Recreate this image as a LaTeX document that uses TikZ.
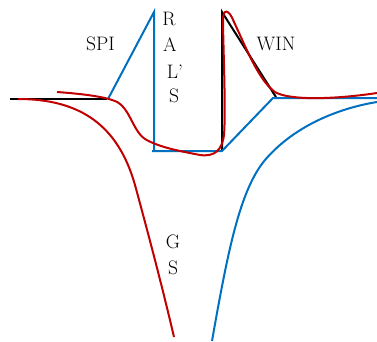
\documentclass[tikz,border=0pt]{standalone}
\definecolor{curveblue}{RGB}{0,112,192}
\definecolor{curvered}{RGB}{192,0,0}
\tikzset{
  lbl/.style={font=\fontsize{19.5}{22}\selectfont,inner sep=0pt},
  bline/.style={curveblue,line width=2pt},
  rline/.style={curvered,line width=2pt},
  kline/.style={black,line width=2pt}
}
\begin{document}
\begin{tikzpicture}[x=1pt,y=-1pt]
        \useasboundingbox (0,0) rectangle (377,341);
        \draw[kline] (10,99) -- (107,99);
        \draw[kline] (222,151) -- (222,12) -- (274,94) -- (276,97);
        \draw[bline] (108,99) -- (154,12) -- (154,151);
        \draw[bline] (152,151) -- (222,151) -- (273,98) -- (377,98);
        \draw[bline] (212,341) .. controls (228,250) and (240,190) .. (265,160) .. controls (295,125) and (340,108) .. (377,102);
        \draw[rline] (18,99) .. controls (80,99) and (118,125) .. (135,185) .. controls (150,240) and (163,290) .. (174,337);
        \draw[rline] (57,92) .. controls (85,94) and (105,97) .. (115,101)
          .. controls (130,107) and (132,130) .. (145,139)
          .. controls (160,148) and (185,152) .. (200,155)
          .. controls (215,157) and (222,150) .. (224,135)
          .. controls (226,110) and (223,40) .. (223,20)
          .. controls (223,8) and (229,9) .. (234,22)
          .. controls (245,45) and (258,80) .. (275,92)
          .. controls (288,100) and (330,100) .. (377,93);
        \node[lbl] (spi) at (100.5,44) {SPI};
        \node[lbl] (r) at (169,18.5) {R};
        \node[lbl] (a) at (170,45) {A};
        \node[lbl] (l) at (175,72) {L'};
        \node[lbl] (s) at (174,96) {S};
        \node[lbl] (win) at (276,44) {WIN};
        \node[lbl] (g) at (173,242) {G};
        \node[lbl] (s2) at (173,268) {S};
    \end{tikzpicture}
\end{document}
